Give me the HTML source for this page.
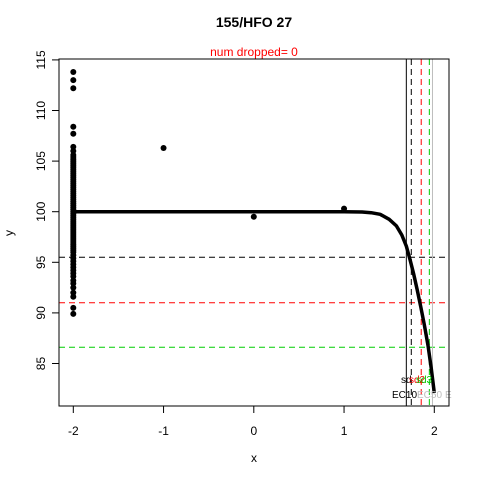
<!DOCTYPE html>
<html><head><meta charset="utf-8"><style>
body{margin:0;background:#fff}
svg{display:block;font-family:"Liberation Sans",Arial,sans-serif}
</style></head><body>
<svg id="chart" width="480" height="480" xmlns="http://www.w3.org/2000/svg">
<rect width="480" height="480" fill="#fff"/>
<text x="254" y="27" font-size="14" font-weight="bold" text-anchor="middle">155/HFO 27</text>
<text x="254" y="56" font-size="12" fill="#ff0000" text-anchor="middle">num dropped= 0</text>
<text x="254" y="462" font-size="12" text-anchor="middle">x</text>
<text x="13" y="233" font-size="12" text-anchor="middle" transform="rotate(-90 13 233)">y</text>
<g id="plot"></g>
<rect x="59" y="59" width="390" height="347" fill="none" stroke="#000"/>
</svg>
<script>
const xTicks=[-2,-1,0,1,2];
const yTicks=[85,90,95,100,105,110,115];
const ptX=[-2,-2,-2,-2,-2,-2,-2,-2,-2,-2,-2,-2,-2,-2,-2,-2,-2,-2,-2,-2,-2,-2,-2,-2,-2,-2,-2,-2,-2,-2,-2,-2,-2,-2,-2,-2,-2,-2,-2,-2,-2,-2,-2,-2,-2,-2,-2,-2,-2,-2,-2,-2,-2,-2,-2,-2,-2,-2,-2,-2,-2,-2,-2,-2,-2,-2,-2,-2,-2,-2,-2,-1,0,1];
const ptY=[113.8,113.0,112.2,108.4,107.7,106.4,106.0,105.6,105.4,105.2,105.0,104.8,104.6,104.4,104.2,104.0,103.8,103.6,103.4,103.2,103.0,102.8,102.6,102.4,102.2,102.0,101.8,101.6,101.4,101.2,101.0,100.8,100.6,100.4,100.2,100.0,99.8,99.6,99.4,99.2,99.0,98.8,98.6,98.4,98.2,98.0,97.8,97.6,97.4,97.2,97.0,96.8,96.6,96.4,96.2,96.0,95.7,95.4,95.1,94.8,94.5,94.2,93.9,93.6,93.2,92.9,92.5,92.0,91.6,90.5,89.9,106.3,99.5,100.3];
const curveX=[-2,-1,0,1,1.2,1.3,1.4,1.5,1.58,1.64,1.69,1.73,1.77,1.81,1.85,1.89,1.93,1.965,2.0];
const curveY=[100,100,100,100,99.97,99.9,99.74,99.25,98.6,97.7,96.6,95.3,93.9,92.3,90.6,88.8,86.8,84.6,82.1];
const hLines=[[95.5,'#000'],[91.0,'#ff0000'],[86.6,'#00cd00']];
const vLines=[[1.69,'#000',''],[1.745,'#000','6,4'],[1.855,'#ff0000','6,4'],[1.945,'#00cd00','6,4'],[1.98,'#bebebe','']];
const X=v=>73.3+(v+2)*90.25;
const Y=v=>211.7-(v-100)*10.12;
const NS='http://www.w3.org/2000/svg';
const g=document.getElementById('plot');
function mk(t,a){const e=document.createElementNS(NS,t);for(const k in a)e.setAttribute(k,a[k]);g.appendChild(e);return e;}
xTicks.forEach(t=>{
 const l=mk('line',{x1:X(t),x2:X(t),y1:406,y2:413,stroke:'#000'});
 
 
 const tx=mk('text',{x:X(t),y:435,'font-size':12,'text-anchor':'middle'});tx.textContent=t;
 
 
});
yTicks.forEach(t=>{
 const l=mk('line',{x1:52,x2:59,y1:Y(t),y2:Y(t),stroke:'#000'});
 
 
 const tx=mk('text',{x:45,y:Y(t),'font-size':12,'text-anchor':'middle',transform:`rotate(-90 45 ${Y(t)})`});tx.textContent=t;
 
 
});
hLines.forEach(h=>{
 const l=mk('line',{x1:59,x2:449,y1:Y(h[0]),y2:Y(h[0]),stroke:h[1],'stroke-dasharray':'6,4'});
 
 
});
vLines.forEach(v=>{
 const a={x1:X(v[0]),x2:X(v[0]),y1:59,y2:406,stroke:v[1]};if(v[2])a['stroke-dasharray']=v[2];
 const l=mk('line',a);
 
 
});
ptX.forEach((x,i)=>{
 const c=mk('circle',{cx:X(x),cy:Y(ptY[i]),r:3,fill:'#000'});
 
 
});
const p=mk('polyline',{points:curveX.map((x,i)=>X(x)+','+Y(curveY[i])).join(' '),fill:'none',stroke:'#000','stroke-width':3.5,'stroke-linejoin':'round'});


[['sd',401,'#000'],['sd2',409,'#ff0000'],['sd3',416,'#00cd00']].forEach(s=>{
 const t=mk('text',{x:s[1],y:383,'font-size':10,fill:s[2]});t.textContent=s[0];
 
 
});
[['EC10',392,'#000'],['EC50',417,'#bebebe'],['E',445,'#bebebe']].forEach(s=>{
 const t=mk('text',{x:s[1],y:398,'font-size':10,fill:s[2]});t.textContent=s[0];
 
 
});
</script>
</body></html>
